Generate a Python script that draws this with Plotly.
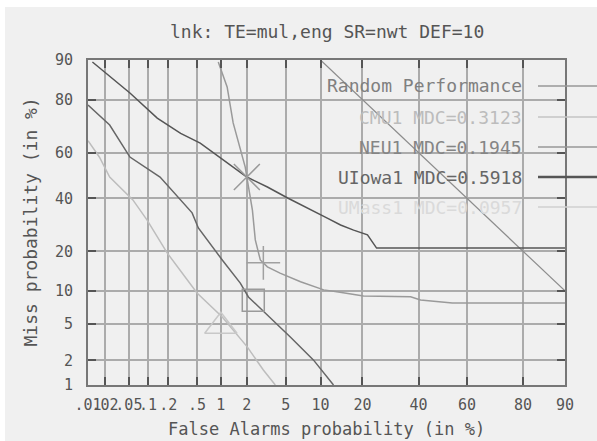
import plotly.graph_objects as go
from statistics import NormalDist

# ---------------- data (percent) ----------------
systems = ["CMU1", "NEU1", "UIowa1", "UMass1"]
mdc_values = ["0.3123", "0.1945", "0.5918", "0.0957"]

random_fa = [10, 20, 40, 60, 80, 90]
random_miss = [90, 80, 60, 40, 20, 10]

cmu1_fa = [0.93, 1.19, 1.4, 1.92, 2.0, 2.3, 2.47, 2.79, 3.3, 4.4, 6.8, 10.6, 13.7, 20.3, 36.8, 40.8, 54, 90]
cmu1_miss = [89.6, 83.7, 72, 53.7, 49.3, 35, 23.7, 17.4, 15.5, 13.9, 11.9, 10.2, 9.8, 9.05, 8.9, 8.35, 7.85, 7.85]

neu1_fa = [0.01, 0.024, 0.052, 0.152, 0.43, 0.52, 1.04, 1.69, 2.08, 3.3, 5.5, 8.75, 12.6]
neu1_miss = [78.3, 71.2, 58.1, 49.3, 33.9, 28, 17.4, 11.6, 8.87, 6.07, 3.65, 2.03, 1.0]

uiowa1_fa = [0.012, 0.052, 0.138, 0.3, 0.55, 0.98, 2.0, 3.3, 5.2, 11.3, 14.2, 17.5, 21.5, 24.4, 90]
uiowa1_miss = [89.6, 82, 73.8, 68, 64, 57.7, 49.3, 44.9, 40.1, 31.8, 29.1, 27.2, 25.5, 21, 21]

umass1_fa = [0.01, 0.016, 0.024, 0.058, 0.097, 0.193, 0.5, 1.04, 2.02, 3.0, 3.96]
umass1_miss = [65, 58, 49.3, 39.3, 31, 19.5, 9.6, 5.8, 2.85, 1.54, 1.0]

# minimum-DCF points
mdc_fa = [3.0, 2.35, 2.0, 1.0]
mdc_miss = [16.6, 8.3, 49.3, 4.7]

x_tick_pct = [0.01, 0.02, 0.05, 0.1, 0.2, 0.5, 1, 2, 5, 10, 20, 40, 60, 80, 90]
x_tick_text = [".01", ".02", ".05", ".1", ".2", ".5", "1", "2", "5", "10", "20", "40", "60", "80", "90"]
y_tick_pct = [1, 2, 5, 10, 20, 40, 60, 80, 90]
y_tick_text = ["1", "2", "5", "10", "20", "40", "60", "80", "90"]

# ---------------- helpers ----------------
nd = NormalDist()


def probit(vals):
    return [nd.inv_cdf(v / 100.0) for v in vals]


line_colors = {"Random": "#8c8c8c", "CMU1": "#9a9a9a", "NEU1": "#666666",
               "UIowa1": "#555555", "UMass1": "#bdbdbd"}
marker_symbols = {"CMU1": "cross-thin-open", "NEU1": "square-open",
                  "UIowa1": "x-thin-open", "UMass1": "triangle-up-open"}
marker_colors = {"CMU1": "#a0a0a0", "NEU1": "#9a9a9a", "UIowa1": "#9a9a9a", "UMass1": "#c8c8c8"}
marker_sizes = {"CMU1": 24, "NEU1": 22, "UIowa1": 26, "UMass1": 28}

curves = {
    "CMU1": (cmu1_fa, cmu1_miss),
    "NEU1": (neu1_fa, neu1_miss),
    "UIowa1": (uiowa1_fa, uiowa1_miss),
    "UMass1": (umass1_fa, umass1_miss),
}

fig = go.Figure()

fig.add_trace(go.Scatter(x=probit(random_fa), y=probit(random_miss), mode="lines",
                         line=dict(color=line_colors["Random"], width=1.2),
                         name="Random Performance"))
for i, s in enumerate(systems):
    fa, miss = curves[s]
    fig.add_trace(go.Scatter(x=probit(fa), y=probit(miss), mode="lines",
                             line=dict(color=line_colors[s], width=1.5), name=s))
for i, s in enumerate(systems):
    fig.add_trace(go.Scatter(x=probit([mdc_fa[i]]), y=probit([mdc_miss[i]]), mode="markers",
                             marker=dict(symbol=marker_symbols[s], size=marker_sizes[s],
                                         color=marker_colors[s],
                                         line=dict(color=marker_colors[s], width=1.5)),
                             name=s + " min"))

FONT = "DejaVu Sans Mono"
axis_common = dict(showgrid=True, gridcolor="#ababab", gridwidth=1.5, zeroline=False,
                   showline=True, linecolor="#777777", linewidth=2, mirror="ticks",
                   ticks="inside", ticklen=8, tickwidth=1.5, tickcolor="#555555",
                   tickangle=0,
                   tickfont=dict(family=FONT, size=15, color="#555555"))

fig.update_xaxes(range=probit([0.01, 90]), tickmode="array",
                 tickvals=probit(x_tick_pct), ticktext=x_tick_text,
                 ticklabelstandoff=5, **axis_common)
fig.update_yaxes(range=probit([1, 90]), tickmode="array",
                 tickvals=probit(y_tick_pct), ticktext=y_tick_text,
                 ticklabelstandoff=10, **axis_common)

W, H = 597, 441
L, R, T, B = 88, 32, 60, 56
pw, ph = W - L - R, H - T - B


def px_x(x):
    return (x - L) / pw


def px_y(y):
    return (H - B - y) / ph


shapes = [
    # background with the thin white border at top/left
    dict(type="rect", xref="paper", yref="paper", x0=px_x(5), x1=px_x(W + 5),
         y0=px_y(H + 5), y1=px_y(7), fillcolor="#f0f0f0", line=dict(width=0), layer="below"),
    # legend box hides the grid
    dict(type="rect", xref="paper", yref="paper", x0=px_x(313), x1=1,
         y0=px_y(222), y1=1, fillcolor="#f0f0f0", line=dict(width=0), layer="between"),
]

legend_labels = ["Random Performance"] + [f"{s} MDC={m}" for s, m in zip(systems, mdc_values)]
legend_text_colors = ["#808080", "#bcbcbc", "#858585", "#666666", "#dadada"]
legend_line_colors = ["#999999", "#c4c4c4", "#999999", "#555555", "#d0d0d0"]
legend_line_widths = [1.5, 1.5, 1.5, 2.5, 1.5]
legend_y_px = [86, 117, 147, 177, 207]

annotations = []
for lab, tc, lc, lw, ypx in zip(legend_labels, legend_text_colors, legend_line_colors,
                                legend_line_widths, legend_y_px):
    annotations.append(dict(text=lab, xref="paper", yref="paper", x=px_x(524), y=px_y(ypx),
                            xanchor="right", yanchor="middle", showarrow=False,
                            font=dict(family=FONT, size=18, color=tc)))
    shapes.append(dict(type="line", xref="paper", yref="paper", x0=px_x(538), x1=px_x(600),
                       y0=px_y(ypx), y1=px_y(ypx), line=dict(color=lc, width=lw), layer="above"))

annotations += [
    dict(text="lnk: TE=mul,eng SR=nwt DEF=10", xref="paper", yref="paper", x=0.5, y=px_y(32),
         xanchor="center", yanchor="middle", showarrow=False,
         font=dict(family=FONT, size=18, color="#555555")),
    dict(text="False Alarms probability (in %)", xref="paper", yref="paper", x=0.5, y=px_y(429),
         xanchor="center", yanchor="middle", showarrow=False,
         font=dict(family=FONT, size=17, color="#555555")),
    dict(text="Miss probability (in %)", xref="paper", yref="paper", x=px_x(30), y=0.5,
         xanchor="center", yanchor="middle", showarrow=False, textangle=-90,
         font=dict(family=FONT, size=18, color="#555555")),
]

fig.update_layout(width=W, height=H, margin=dict(l=L, r=R, t=T, b=B),
                  paper_bgcolor="#ffffff", plot_bgcolor="rgba(0,0,0,0)",
                  showlegend=False, shapes=shapes, annotations=annotations,
                  font=dict(family=FONT, color="#555555"))

fig.write_html("out.html")
